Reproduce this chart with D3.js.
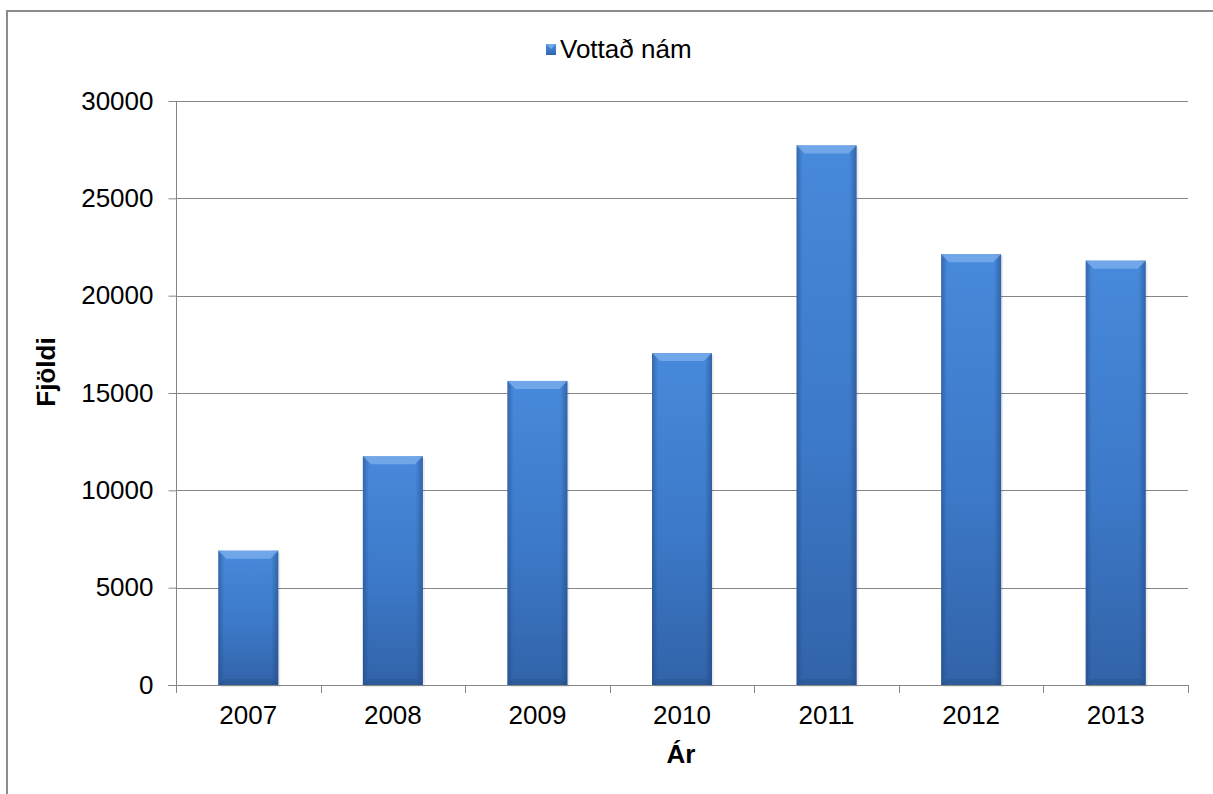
<!DOCTYPE html>
<head>
    <meta charset="utf-8">
    <script src="https://d3js.org/d3.v7.min.js"></script>
    <style>
        body { margin: 0; background: #fff; }
        text { font-family: "Liberation Sans", Arial, sans-serif; }
    </style>
</head>
<body>
<svg width="1213" height="794"></svg>

<script>
    // data
    var years = ["2007", "2008", "2009", "2010", "2011", "2012", "2013"];
    var values = [6900, 11750, 15620, 17050, 27720, 22130, 21800];
    var yTicks = [0, 5000, 10000, 15000, 20000, 25000, 30000];
    var seriesName = "Vottað nám";

    var fontSize = 26;

    var svg = d3.select("svg"),
        margin = {top: 101, right: 25, bottom: 109, left: 176},
        width = +svg.attr("width") - margin.left - margin.right,
        height = +svg.attr("height") - margin.top - margin.bottom;

    // outer chart border
    svg.append("rect")
        .attr("x", 7).attr("y", 11)
        .attr("width", 1220).attr("height", 800)
        .attr("fill", "none")
        .attr("stroke", "#8c8c8c")
        .attr("stroke-width", 2);

    var defs = svg.append("defs");

    var grad = defs.append("linearGradient")
        .attr("id", "barFill").attr("x1", 0).attr("x2", 0).attr("y1", 0).attr("y2", 1);
    grad.append("stop").attr("offset", "0%").attr("stop-color", "#4789db");
    grad.append("stop").attr("offset", "55%").attr("stop-color", "#3c79c8");
    grad.append("stop").attr("offset", "100%").attr("stop-color", "#3263a9");

    var side = defs.append("linearGradient")
        .attr("id", "barSide").attr("x1", 0).attr("x2", 1).attr("y1", 0).attr("y2", 0);
    side.append("stop").attr("offset", "0%").attr("stop-color", "#1d3f73").attr("stop-opacity", 0.45);
    side.append("stop").attr("offset", "10%").attr("stop-color", "#1d3f73").attr("stop-opacity", 0.0);
    side.append("stop").attr("offset", "88%").attr("stop-color", "#1d3f73").attr("stop-opacity", 0.0);
    side.append("stop").attr("offset", "100%").attr("stop-color", "#1d3f73").attr("stop-opacity", 0.5);

    var g = svg.append("g").attr("transform", "translate(" + margin.left + "," + margin.top + ")");

    var x = d3.scaleBand()
        .domain(years)
        .range([0, width])
        .paddingInner(0.585)
        .paddingOuter(0.2925);

    var y = d3.scaleLinear()
        .domain([0, 30000])
        .range([height, 0]);

    // gridlines
    g.append("g")
        .selectAll("line")
        .data(yTicks.slice(1))
        .enter().append("line")
        .attr("x1", 0).attr("x2", width)
        .attr("y1", function(d) { return Math.round(y(d)) + 0.5; })
        .attr("y2", function(d) { return Math.round(y(d)) + 0.5; })
        .attr("stroke", "#868686");

    // y axis
    var yAxis = g.append("g")
        .attr("transform", "translate(0.5,0)")
        .call(d3.axisLeft(y).tickValues(yTicks).tickFormat(d3.format("d")).tickSize(8).tickPadding(15));
    yAxis.select(".domain").attr("stroke", "#868686").attr("d", "M0," + height + "V0");
    yAxis.selectAll(".tick line").attr("stroke", "#868686");
    yAxis.selectAll("text").attr("font-size", fontSize).attr("fill", "#000")
        .style("font-family", "'Liberation Sans', Arial, sans-serif");

    // bars
    var bars = g.append("g").selectAll("g.bar")
        .data(values)
        .enter().append("g").attr("class", "bar");

    bars.append("rect")
        .attr("x", function(d, i) { return x(years[i]) + 2; })
        .attr("y", function(d) { return y(d) + 2; })
        .attr("width", x.bandwidth())
        .attr("height", function(d) { return height - y(d); })
        .attr("fill", "#000").attr("opacity", 0.08);

    bars.append("rect")
        .attr("x", function(d, i) { return x(years[i]); })
        .attr("y", function(d) { return y(d); })
        .attr("width", x.bandwidth())
        .attr("height", function(d) { return height - y(d); })
        .attr("fill", "url(#barFill)");

    bars.append("rect")
        .attr("x", function(d, i) { return x(years[i]); })
        .attr("y", function(d) { return y(d); })
        .attr("width", x.bandwidth())
        .attr("height", function(d) { return height - y(d); })
        .attr("fill", "url(#barSide)");

    // top bevel
    bars.append("path")
        .attr("d", function(d, i) {
            var x0 = x(years[i]), x1 = x0 + x.bandwidth(), t = y(d), b = 8;
            return "M" + x0 + "," + t + "L" + x1 + "," + t + "L" + (x1 - b) + "," + (t + b) +
                "L" + (x0 + b) + "," + (t + b) + "Z";
        })
        .attr("fill", "#7fb2ee").attr("opacity", 0.75);

    // bottom bevel
    bars.append("path")
        .attr("d", function(d, i) {
            var x0 = x(years[i]), x1 = x0 + x.bandwidth(), bt = height, b = 6;
            return "M" + x0 + "," + bt + "L" + x1 + "," + bt + "L" + (x1 - b) + "," + (bt - b) +
                "L" + (x0 + b) + "," + (bt - b) + "Z";
        })
        .attr("fill", "#24487e").attr("opacity", 0.3);

    // x axis
    var xAxis = g.append("g")
        .attr("transform", "translate(0," + (height + 0.5) + ")")
        .call(d3.axisBottom(x).tickSize(0).tickPadding(20));
    xAxis.select(".domain").attr("stroke", "#868686").attr("d", "M-8,0H" + width);
    xAxis.selectAll("text").attr("font-size", fontSize).attr("fill", "#000")
        .style("font-family", "'Liberation Sans', Arial, sans-serif");

    // category boundary ticks
    g.append("g").selectAll("line")
        .data(d3.range(years.length + 1))
        .enter().append("line")
        .attr("x1", function(i) { return Math.round(i * width / years.length) + 0.5; })
        .attr("x2", function(i) { return Math.round(i * width / years.length) + 0.5; })
        .attr("y1", height).attr("y2", height + 8)
        .attr("stroke", "#868686");

    // axis titles
    svg.append("text")
        .attr("x", 681).attr("y", 763)
        .attr("text-anchor", "middle")
        .attr("font-size", fontSize).attr("font-weight", "bold")
        .text("Ár");

    svg.append("text")
        .attr("transform", "translate(55,372) rotate(-90)")
        .attr("text-anchor", "middle")
        .attr("font-size", fontSize).attr("font-weight", "bold")
        .text("Fjöldi");

    // legend
    svg.append("rect")
        .attr("x", 546).attr("y", 44)
        .attr("width", 10).attr("height", 11)
        .attr("fill", "url(#barFill)");
    svg.append("path")
        .attr("d", "M546,44L556,44L551,49Z")
        .attr("fill", "#7fb2ee").attr("opacity", 0.8);
    svg.append("text")
        .attr("x", 560).attr("y", 58)
        .attr("font-size", fontSize)
        .text(seriesName);
</script>
</body>
